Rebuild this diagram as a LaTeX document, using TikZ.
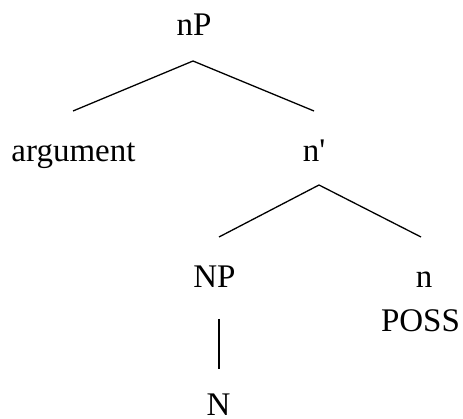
\documentclass[tikz,border=0pt]{standalone}
\usepackage{fontspec}
\setmainfont{Liberation Serif}
\begin{document}
\begin{tikzpicture}[x=1pt,y=-1pt,
  lbl/.style={anchor=base,inner sep=0pt,font=\fontsize{33}{36}\selectfont},
  branch/.style={line width=1.3pt,black}]
\useasboundingbox (0,0) rectangle (463,419);
% labels
\node[lbl] (nP)   at (194,36)  {nP};
\node[lbl] (arg)  at (73.5,162) {argument};
\node[lbl] (nbar) at (314,162) {n\textquotesingle};
\node[lbl] (NP)   at (214.5,288) {NP};
\node[lbl] (n)    at (424,288) {n};
\node[lbl] (poss) at (420.5,332) {POSS};
\node[lbl] (N)    at (218.5,415) {N};
% branch end points
\coordinate (nPtop) at (193,61);
\coordinate (nPl)   at (73,111);
\coordinate (nPr)   at (314,111);
\coordinate (nbtop) at (319,185);
\coordinate (nbl)   at (219,237);
\coordinate (nbr)   at (421,237);
\coordinate (NPtop) at (219,319);
\coordinate (NPbot) at (219,369);
% branches
\draw[branch] (nPl) -- (nPtop) -- (nPr);
\draw[branch] (nbl) -- (nbtop) -- (nbr);
\draw[branch] (NPtop) -- (NPbot);
\end{tikzpicture}
\end{document}
